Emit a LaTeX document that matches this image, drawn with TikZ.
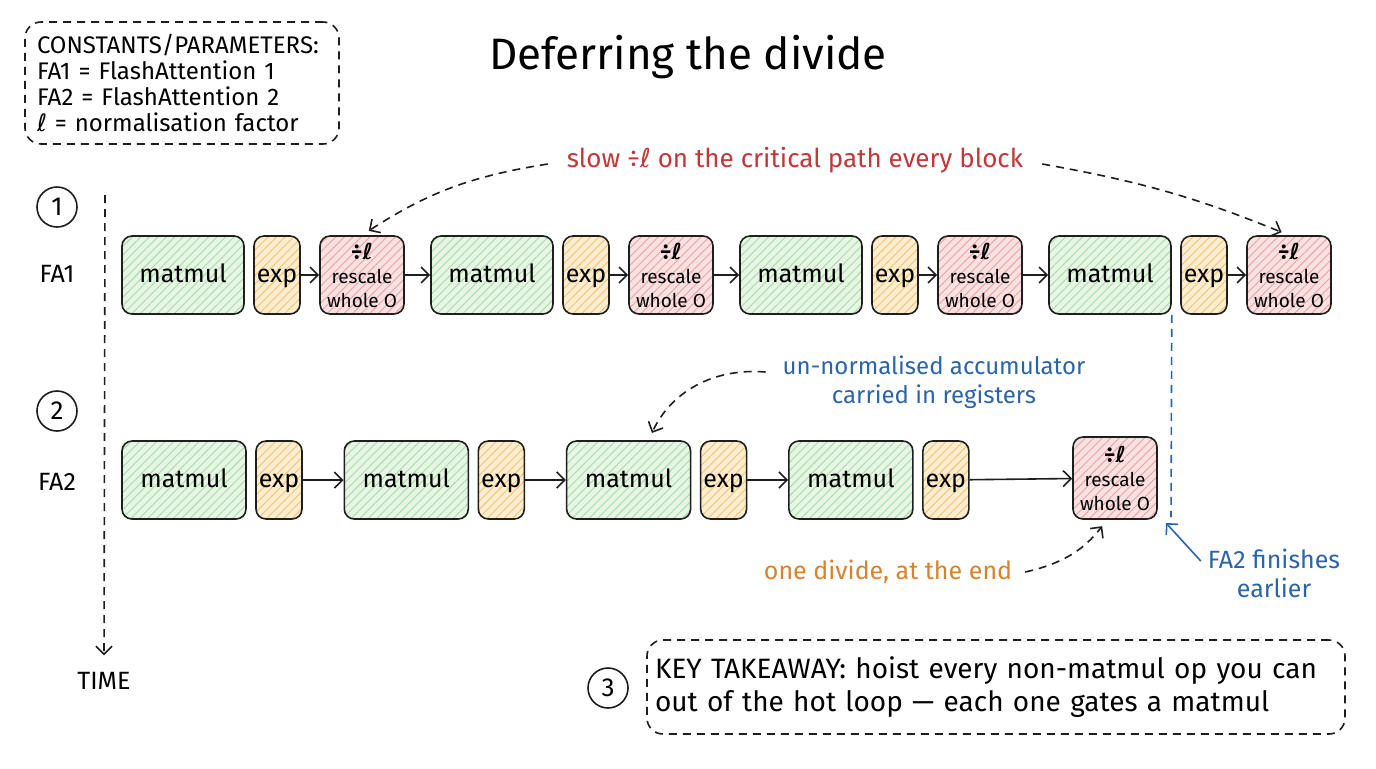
\documentclass[tikz,border=0pt]{standalone}
\usepackage{fontspec}
\setmainfont{Fira Sans}
\newfontfamily\symfont{DejaVu Sans}
\usepackage{tikz}
\usetikzlibrary{arrows.meta,calc,positioning,patterns.meta}
\definecolor{ink}{HTML}{1E1E1E}
\definecolor{mmfill}{HTML}{E6F5E4}
\definecolor{mmhatch}{HTML}{A9DBA6}
\definecolor{exfill}{HTML}{FCEDCF}
\definecolor{exhatch}{HTML}{F1C377}
\definecolor{rsfill}{HTML}{F9E1E1}
\definecolor{rshatch}{HTML}{E9A3A3}
\definecolor{slowred}{HTML}{C0383A}
\definecolor{regblue}{HTML}{2B65A8}
\definecolor{endorange}{HTML}{D9822B}
\newcommand{\ellsym}{{\symfont ℓ}}
\tikzset{
  box/.style={draw=ink,line width=.8pt,rounded corners=5pt,minimum height=39pt,inner sep=0pt,align=center},
  hatch/.style={pattern={Lines[angle=45,distance=3pt,line width=.45pt]}},
  oneline/.style={text height=.9em,text depth=.15em},
  mmbox/.style={box,oneline,minimum width=61pt,preaction={fill=mmfill},hatch,pattern color=mmhatch,font=\fontsize{12.5}{14}\selectfont},
  exbox/.style={box,oneline,minimum width=23pt,preaction={fill=exfill},hatch,pattern color=exhatch,font=\fontsize{12.5}{14}\selectfont},
  rsbox/.style={box,minimum width=42pt,preaction={fill=rsfill},hatch,pattern color=rshatch,font=\fontsize{9.5}{12}\selectfont},
  flow/.style={draw=ink,line width=.8pt,-{Straight Barb[length=4pt,width=8pt]}},
  dflow/.style={flow,dash pattern=on 4pt off 3pt},
  dashbox/.style={draw=ink,line width=.8pt,dash pattern=on 4pt off 3pt,rounded corners=8pt,align=left},
  stepnum/.style={circle,draw=ink,line width=.8pt,minimum size=20pt,inner sep=0pt,font=\fontsize{13}{15}\selectfont},
  rowlbl/.style={font=\fontsize{12.5}{15}\selectfont},
  note/.style={font=\fontsize{12.5}{14.5}\selectfont,align=center}
}
\newcommand{\rescaletext}{{\fontsize{11}{12}\selectfont\bfseries ÷\ellsym}\\ rescale\\ whole O}

\begin{document}
\begin{tikzpicture}[x=.5pt,y=-.5pt]
  \fill[white] (0,0) rectangle (1376,768);
  \useasboundingbox (0,0) rectangle (1376,768);

  % title and legend
  \node[font=\fontsize{22}{26}\selectfont] (title) at (688,57) {Deferring the divide};
  \node[dashbox,font=\fontsize{12}{13}\selectfont,inner xsep=6pt,text width=145pt,minimum height=61pt] (consts) at (182,83)
    {CONSTANTS/PARAMETERS:\\ FA1 = FlashAttention 1\\ FA2 = FlashAttention 2\\ \ellsym{} = normalisation factor};

  % time axis
  \node[stepnum] (n1) at (57,207) {1};
  \node[stepnum] (n2) at (57,411) {2};
  \node[rowlbl] (fa1) at (57,274) {FA1};
  \node[rowlbl] (fa2) at (57,482) {FA2};
  \coordinate (t0) at (105,195);
  \node[rowlbl] (timelbl) at (104,681) {TIME};
  \draw[dflow,shorten >=5pt] (t0) -- (timelbl.north);

  % FA1 row
  \foreach \i [evaluate=\i as \x using 122+(\i-1)*309] in {1,...,4}{
    \node[mmbox] (mA\i) at (\x+61,275) {matmul};
    \node[exbox] (eA\i) at (\x+155,275) {exp};
    \node[rsbox] (rA\i) at (\x+240,275) {\rescaletext};
    \draw[flow] (eA\i) -- (rA\i);
  }
  \foreach \i [count=\j from 2] in {1,2,3}
    \draw[flow] (rA\i) -- (mA\j);

  % FA2 row
  \foreach \i [evaluate=\i as \x using 122+(\i-1)*222.3] in {1,...,4}{
    \node[mmbox,minimum width=62pt] (mB\i) at (\x+62,480) {matmul};
    \node[exbox] (eB\i) at (\x+157,480) {exp};
  }
  \foreach \i [count=\j from 2] in {1,2,3}
    \draw[flow] (eB\i) -- (mB\j);
  \node[rsbox,minimum height=41pt] (rB) at (1115,478) {\rescaletext};
  \draw[flow] (eB4) -- (rB);

  % annotations
  \node[note,font=\fontsize{13}{15}\selectfont,text=slowred] (slow) at (795,160) {slow ÷\ellsym{} on the critical path every block};
  \draw[dflow,shorten >=4pt] ([xshift=-6pt,yshift=-2pt]slow.west) to[bend right=12] (rA1.north);
  \draw[dflow,shorten >=4pt] ([xshift=6pt,yshift=-2pt]slow.east) to[bend left=6] (rA4.north);

  \node[note,font=\fontsize{12}{14.5}\selectfont,text=regblue] (accum) at (934,382) {un-normalised accumulator\\ carried in registers};
  \draw[dflow,shorten >=4pt] ([xshift=-5pt,yshift=5pt]accum.west) to[bend right=35] ([xshift=10pt]mB3.north);

  \node[note,text=endorange] (onediv) at (888,572) {one divide, at the end};
  \draw[dflow,shorten >=4pt] ([xshift=3pt]onediv.east) to[bend right=20] ([xshift=-4pt]rB.south);

  \coordinate (fin) at (1171,517);
  \coordinate (fintip) at (1166,523);
  \draw[regblue,line width=.8pt,dash pattern=on 4pt off 3pt] (mA4.south east) -- (fin);
  \node[note,text=regblue] (fintxt) at (1274,573) {FA2 finishes\\ earlier};
  \draw[flow,draw=regblue] ([yshift=6pt]fintxt.west) -- (fintip);

  % takeaway
  \node[stepnum] (n3) at (608,688) {3};
  \node[dashbox,font=\fontsize{14}{16.5}\selectfont,inner xsep=4pt,text width=341pt,minimum height=47pt] (takeaway) at (996,687)
    {KEY TAKEAWAY: hoist every non-matmul op you can\\ out of the hot loop — each one gates a matmul};
\end{tikzpicture}
\end{document}
